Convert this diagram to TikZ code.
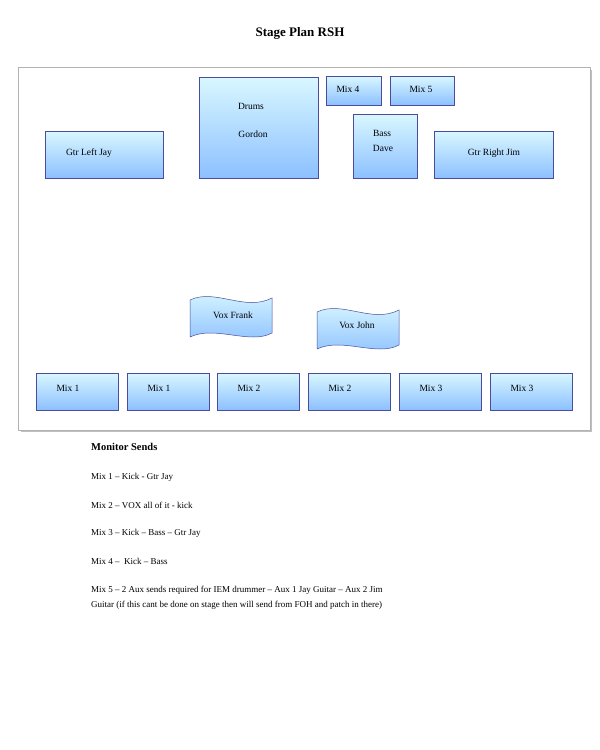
\documentclass[tikz,border=0pt]{standalone}
\usepackage{fontspec}
\setmainfont{Liberation Serif}
\begin{document}
\begin{tikzpicture}[x=1pt,y=-1pt,
 box/.style={draw=blue!45!black!70,line width=0.5pt,top color=blue!20!cyan!15,bottom color=blue!55!cyan!45},
 lab/.style={font=\fontsize{9.5}{11}\selectfont,inner sep=0},
 txt/.style={font=\fontsize{9}{11}\selectfont,anchor=west,inner sep=0,align=left}]
\useasboundingbox (0,0) rectangle (600,750);
\node[font=\bfseries\fontsize{13}{15}\selectfont] (title) at (300,33) {Stage Plan RSH};
\fill[black!25] (21,70) rectangle (592,432);
\draw[black!30,fill=white] (18,67) rectangle (590,430);
\newcommand{\bx}[5]{\path[box] (#1,#2) rectangle (#3,#4); \node[lab] (#5) at ($(#1,#2)!0.5!(#3,#4)$) {};}
\path[box] (45,131) rectangle (163,178); \node[lab] (gl) at (89,153) {Gtr Left Jay};
\path[box] (199,77) rectangle (318,178); \node[lab] (dr) at (251,106) {Drums}; \node[lab] (go) at (253,134) {Gordon};
\path[box] (326,76) rectangle (381,105); \node[lab] (m4) at (348,89) {Mix 4};
\path[box] (390,76) rectangle (454,105); \node[lab] (m5) at (421,89) {Mix 5};
\path[box] (353,114) rectangle (417,178); \node[lab] (ba) at (382,133) {Bass}; \node[lab] (da) at (383,148) {Dave};
\path[box] (434,131) rectangle (553,178); \node[lab] (gr) at (494,153) {Gtr Right Jim};
\path[box] (190,300) .. controls (215,288) and (245,312) .. (272,298) -- (272,333) .. controls (250,345) and (215,325) .. (190,337) -- cycle;
\node[lab] (vf) at (233,315) {Vox Frank};
\path[box] (317,312) .. controls (342,300) and (372,324) .. (399,310) -- (399,345) .. controls (377,357) and (342,337) .. (317,349) -- cycle;
\node[lab] (vj) at (357,325) {Vox John};
\foreach \x/\t/\n in {36/Mix 1/a,127/Mix 1/b,217/Mix 2/c,308/Mix 2/d,399/Mix 3/e,490/Mix 3/f}{
 \path[box] (\x,373) rectangle (\x+82,410); \node[lab] (r\n) at (\x+32,388) {\t};}
\node[txt,font=\bfseries\fontsize{10.5}{12}\selectfont] (ms) at (91,447) {Monitor Sends};
\node[txt] (l1) at (91,477) {Mix 1 – Kick - Gtr Jay};
\node[txt] (l2) at (91,505) {Mix 2 – VOX all of it - kick};
\node[txt] (l3) at (91,533) {Mix 3 – Kick – Bass – Gtr Jay};
\node[txt] (l4) at (91,561) {Mix 4 –\ \ Kick – Bass};
\node[txt] (l5) at (91,590) {Mix 5 – 2 Aux sends required for IEM drummer – Aux 1 Jay Guitar – Aux 2 Jim};
\node[txt] (l6) at (91,605) {Guitar (if this cant be done on stage then will send from FOH and patch in there)};
\end{tikzpicture}
\end{document}
